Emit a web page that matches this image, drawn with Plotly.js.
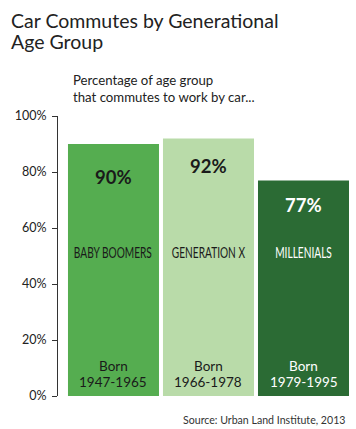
<!DOCTYPE html>
<html>
<head>
<meta charset="utf-8">
<script src="https://cdn.plot.ly/plotly-3.0.1.min.js"></script>
<style>html,body{margin:0;padding:0;background:#fff;}#chart{width:356px;height:429px;}</style>
</head>
<body>
<div id="chart"></div>
<script>
var categories = ["BABY BOOMERS", "GENERATION X", "MILLENIALS"];
var values = [90, 92, 77];
var valueLabels = ["90%", "92%", "77%"];
var bornYears = ["1947-1965", "1966-1978", "1979-1995"];
var tickValues = [0, 20, 40, 60, 80, 100];
var tickLabels = ["0%", "20%", "40%", "60%", "80%", "100%"];
var titleLines = ["Car Commutes by Generational", "Age Group"];
var subtitle = "Percentage of age group<br>that commutes to work by car...";
var source = "Source: Urban Land Institute, 2013";

var barColors = ["#55ad50", "#b9dba9", "#2b6b34"];
var textColors = ["#1a1a1a", "#1a1a1a", "#ffffff"];
var pctShift = [-33, -28, -25];
var baseFont = "Lato, 'Noto Sans', sans-serif";

var W = 356, H = 429, L = 58, R = 5, T = 116, B = 33;
var plotW = W - L - R, plotH = H - T - B;
function px(x) { return (x - L) / plotW; }
function py(y) { return (H - B - y) / plotH; }

var trace = {
  type: "bar",
  x: categories,
  y: values,
  marker: {color: barColors},
  hoverinfo: "none"
};

var annotations = [];
var condensedIdx = [];
categories.forEach(function (c, i) {
  annotations.push({x: c, y: values[i], xref: "x", yref: "y", text: "<b>" + valueLabels[i] + "</b>",
    showarrow: false, yanchor: "middle", yshift: pctShift[i],
    font: {family: baseFont, size: 18.5, color: textColors[i]}});
  condensedIdx.push(annotations.length);
  annotations.push({x: c, y: 0, xref: "x", yref: "y", text: c,
    showarrow: false, yanchor: "middle", yshift: 144,
    font: {family: baseFont, size: 14.5, color: textColors[i]}});
  annotations.push({x: c, y: 0, xref: "x", yref: "y", text: "Born",
    showarrow: false, yanchor: "middle", yshift: 30,
    font: {family: baseFont, size: 13.5, color: textColors[i]}});
  annotations.push({x: c, y: 0, xref: "x", yref: "y", text: bornYears[i],
    showarrow: false, yanchor: "middle", yshift: 14,
    font: {family: baseFont, size: 13.5, color: textColors[i]}});
});
titleLines.forEach(function (t, i) {
  annotations.push({xref: "paper", yref: "paper", x: px(9), y: py(20 + i * 21), xanchor: "left", yanchor: "middle",
    showarrow: false, text: t, font: {family: baseFont, size: 19.5, color: "#222"}});
});
annotations.push({xref: "paper", yref: "paper", x: px(71), y: py(107), xanchor: "left", yanchor: "bottom",
  align: "left", showarrow: false, text: subtitle,
  font: {family: baseFont, size: 13.2, color: "#222"}});
annotations.push({xref: "paper", yref: "paper", x: px(347), y: py(420), xanchor: "right", yanchor: "middle",
  showarrow: false, text: source,
  font: {family: baseFont, size: 10.6, color: "#333"}});

var layout = {
  width: W, height: H,
  margin: {l: L, r: R, t: T, b: B},
  paper_bgcolor: "#fff", plot_bgcolor: "#fff",
  showlegend: false,
  bargap: 0.042,
  xaxis: {range: [-0.584, 2.5], showticklabels: false, showline: false, showgrid: false, zeroline: false, ticks: "", fixedrange: true},
  yaxis: {range: [0, 100], tickvals: tickValues, ticktext: tickLabels, showgrid: false, zeroline: false,
    showline: true, linecolor: "#333", linewidth: 1, ticks: "outside", ticklen: 5, tickcolor: "#333",
    tickfont: {family: baseFont, size: 12.5, color: "#222"}, ticklabelstandoff: 3},
  annotations: annotations
};

Plotly.newPlot("chart", [trace], layout, {displayModeBar: false, staticPlot: true}).then(function (gd) {
  // condense the generation names (original uses a condensed face)
  condensedIdx.forEach(function (k) {
    var g = gd.querySelector('g.annotation[data-index="' + k + '"] text.annotation-text');
    if (!g) return;
    var bb = g.getBBox();
    var cx = bb.x + bb.width / 2;
    g.setAttribute("transform", "translate(" + cx + ",0) scale(0.7,1) translate(" + (-cx) + ",0)");
  });
});
</script>
</body>
</html>
